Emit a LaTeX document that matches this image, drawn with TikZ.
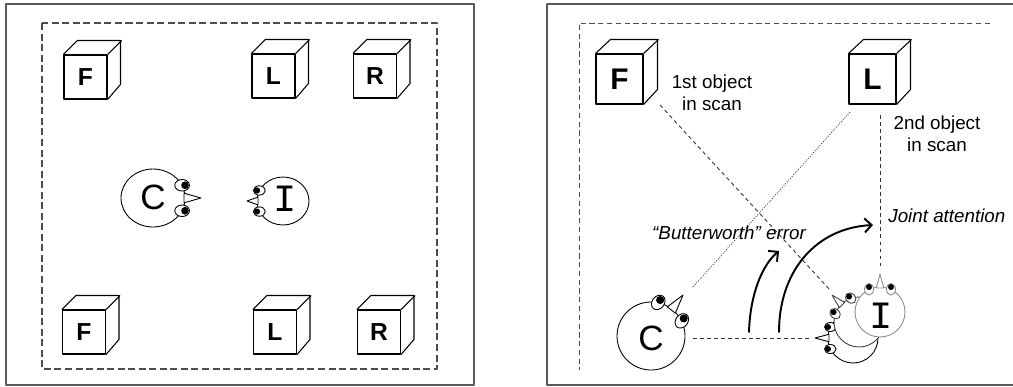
\documentclass[tikz,border=0pt]{standalone}
\usepackage{fontspec}
\setmainfont{Liberation Sans}
\setmonofont{Liberation Mono}
\usetikzlibrary{arrows.meta}
\begin{document}
\begin{tikzpicture}[x=0.02cm, y=-0.02cm, line join=round,
	khung/.style={draw=black!65, line width=0.8pt},
	vien/.style={black!70, line width=0.6pt, dash pattern=on 4pt off 2pt},
	vienmanh/.style={black!70, line width=0.5pt, dash pattern=on 3pt off 2pt},
	hop/.style={draw, line width=0.6pt, inner sep=0pt, minimum width=0.86cm, minimum height=0.88cm, font=\bfseries\fontsize{14}{14}\selectfont},
	hoplon/.style={hop, minimum width=0.94cm, minimum height=1cm, font=\bfseries\fontsize{17}{17}\selectfont},
	chuC/.style={inner sep=0pt, font=\fontsize{20}{20}\selectfont},
	chuI/.style={inner sep=0pt, font=\ttfamily\fontsize{22}{22}\selectfont},
	nhan/.style={inner sep=0pt, align=center, font=\fontsize{10.7}{12.5}\selectfont},
	nghieng/.style={nhan, font=\fontsize{10.7}{12.5}\selectfont\itshape},
	noi/.style={black!80, line width=0.5pt, dash pattern=on 2.2pt off 1.8pt},
	cham/.style={black!80, line width=0.4pt, dash pattern=on 0.6pt off 0.8pt},
	mui/.style={line width=1.1pt, line cap=round, -{Straight Barb[length=4pt, width=8pt]}},
	% cái đầu: bán kính ngang / bán kính dọc / độ dài mũi / màu viền
	pics/dau/.style args={#1/#2/#3/#4}{code={
		\draw[#4, line width=0.5pt, fill=white] (0,0) ellipse (#1 and #2);
		\draw[#4, line width=0.5pt, fill=white] (#1-1,0.15*#1) -- (#1+#3,0) -- (#1-1,-0.15*#1) -- cycle;
		\foreach \s in {1,-1}{
			\draw[#4, line width=0.5pt, fill=white] (0.91*#1,\s*0.44*#2) ellipse (0.23*#1 and 0.18*#1);
			\fill (0.91*#1+0.09*#1,\s*0.44*#2) circle (0.12*#1);
		}
	}}]
	\useasboundingbox (0,0) rectangle (1013,386);
	% Hai khung ngoài
	\draw[khung] (6,4) rectangle (474,385);
	\draw[khung] (1016,4) -- (547,4) -- (547,385) -- (1016,385);
	% Viền nét đứt bên trong
	\draw[vien] (42,23) rectangle (437,369);
	\draw[vienmanh] (990,23) -- (579,23) -- (579,370);
	% Các hộp ở khung trái
	\foreach \ten/\x/\y/\chu in {F1/85.5/77/F, L1/273.5/76/L, R1/375/76/R, F3/84/332/F, L3/275/332/L, R3/379/332/R}{
		\node[hop] (\ten) at (\x,\y) {\chu};
		\draw[line width=0.6pt] (\ten.north west) -- ++(14,-14) -- ++(43,0) -- ++(0,44) -- (\ten.south east);
		\draw[line width=0.6pt] (\ten.north east) -- ++(14,-14);
	}
	% Các hộp ở khung phải
	\foreach \ten/\x/\y/\chu in {F2/619.5/79/F, L2/872.5/79/L}{
		\node[hoplon] (\ten) at (\x,\y) {\chu};
		\draw[line width=0.6pt] (\ten.north west) -- ++(15,-14) -- ++(47,0) -- ++(0,50) -- (\ten.south east);
		\draw[line width=0.6pt] (\ten.north east) -- ++(15,-14);
	}
	% C và I nhìn nhau
	\pic at (153,198) {dau=32/29/16/black};
	\node[chuC] (C1) at (153,197) {C};
	\pic[rotate=180] at (283,201) {dau=26/24/10/black};
	\node[chuI] (I1) at (285,199) {I};
	% Các đường nhìn
	\coordinate (nhinF) at (660,105);
	\coordinate (denI) at (830,290);
	\coordinate (nhinL) at (850,112);
	\coordinate (denC) at (692,288);
	\coordinate (duoiL) at (880,115);
	\coordinate (trenI) at (880,267);
	\coordinate (truocC) at (693,338);
	\coordinate (truocI) at (812,338);
	\draw[noi] (nhinF) -- (denI);
	\draw[cham] (nhinL) -- (denC);
	\draw[noi] (duoiL) -- (trenI);
	\draw[noi] (truocC) -- (truocI);
	% Hai mũi tên cong
	\coordinate (goc1) at (749,332);
	\coordinate (ngon1) at (779,251);
	\coordinate (goc2) at (779,332);
	\coordinate (ngon2) at (873,225);
	\draw[mui] (goc1) .. controls (750,295) and (762,265) .. (ngon1);
	\draw[mui] (goc2) .. controls (779,272) and (815,228) .. (ngon2);
	% C ở khung phải
	\pic[rotate=52] at (651,336) {dau=34/34/18/black};
	\node[chuC] (C2) at (651,338) {C};
	% I quay dần từ trái lên trên
	\pic[rotate=180] at (853,338) {dau=25/25/13/black};
	\pic[rotate=135] at (859,322) {dau=25/25/13/black!75};
	\pic[rotate=90] at (880,312) {dau=25/25/13/black!45};
	\node[chuI] (I2) at (881,316) {I};
	% Các nhãn
	\node[nhan] (scan1) at (712,93) {1st object\\in scan};
	\node[nhan] (scan2) at (937,134) {2nd object\\in scan};
	\node[nghieng, anchor=west] (chung) at (888,216) {Joint attention};
	\node[nghieng] (loi) at (729,233) {“Butterworth” error};
\end{tikzpicture}
\end{document}
